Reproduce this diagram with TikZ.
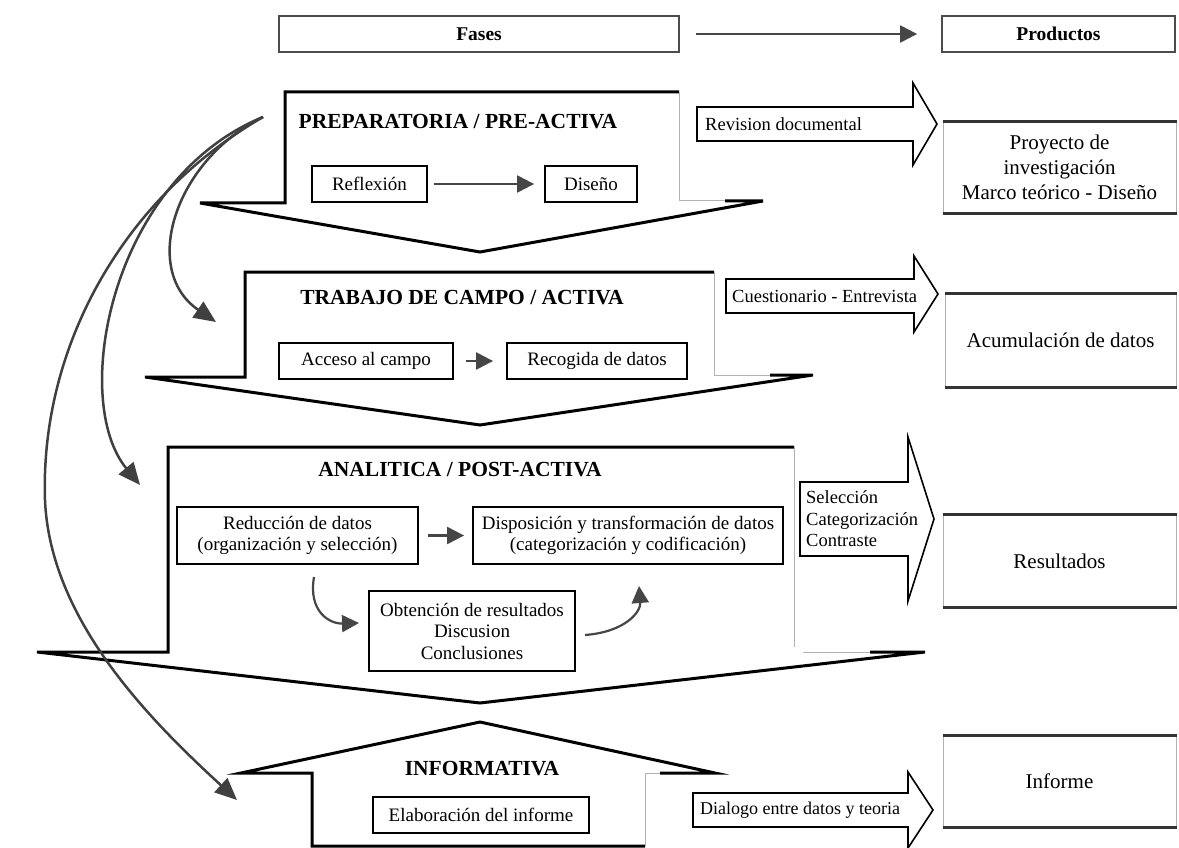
\documentclass[tikz,border=0pt]{standalone}
\usepackage{fontspec}
\setmainfont{Liberation Serif}
\usetikzlibrary{arrows.meta}
\begin{document}
\begin{tikzpicture}[x=1pt,y=-1pt,
  phase/.style={line width=3pt, line join=miter, black},
  faint/.style={line width=1pt, gray!60},
  ibox/.style={draw, line width=1.8pt, inner sep=0pt, font=\fontsize{19}{21.5}\selectfont, align=center},
  hbox/.style={draw=gray!60!black, line width=1.8pt, inner sep=0pt, font=\bfseries\fontsize{19.5}{22}\selectfont},
  pbox/.style={draw=gray!60, line width=1pt, inner sep=0pt, font=\fontsize{21}{25}\selectfont, align=center},
  pedge/.style={line width=2.5pt, gray!40!black},
  ttl/.style={font=\bfseries\fontsize{21.5}{24}\selectfont, inner sep=0pt},
  garrow/.style={draw=gray!55!black, line width=2.2pt, -{Triangle[length=17pt,width=17pt]}, color=gray!55!black},
  curv/.style={draw=gray!50!black, line width=2.5pt, -{Triangle[length=22pt,width=19pt]}, color=gray!50!black},
  barrow/.style={draw, line width=1.6pt, line join=miter},
  btext/.style={font=\fontsize{18.5}{21.5}\selectfont, inner sep=0pt, anchor=west, align=left},
]
\useasboundingbox[fill=white] (0,0) rectangle (1179,848);

% header
\node[hbox, minimum width=400, minimum height=36] (fases) at (479,34) {Fases};
\node[hbox, minimum width=233, minimum height=36] (prod) at (1058.5,34) {Productos};
\draw[garrow, shorten <=16pt, shorten >=24pt] (fases) -- (prod);

% phase 1
\draw[phase] (725,201) -- (763,201) -- (480,252) -- (200,203) -- (285,203) -- (285,92) -- (679,92);
\draw[faint] (679,92) -- (679,201) -- (725,201);
\node[ttl] (t1) at (458,122) {PREPARATORIA / PRE-ACTIVA};
\node[ibox, minimum width=115, minimum height=36] (refl) at (369.5,184) {Reflexión};
\node[ibox, minimum width=92, minimum height=36] (dis) at (591,184) {Diseño};
\draw[garrow, shorten <=6pt, shorten >=10pt] (refl) -- (dis);

\draw[barrow] (697,107) -- (913,107) -- (913,83) -- (937,124) -- (913,165) -- (913,141) -- (697,141) -- cycle;
\node[btext] (rev) at (705,124) {Revision documental};
\node[pbox, minimum width=233, minimum height=91] (proy) at (1059.5,167.5) {Proyecto de\\investigación\\Marco teórico - Diseño};
\draw[pedge] (proy.north west) -- (proy.north east) (proy.south west) -- (proy.south east);

% phase 2
\draw[phase] (770,375) -- (813,375) -- (480,425) -- (145,377) -- (245,377) -- (245,272) -- (714,272);
\draw[faint] (714,272) -- (714,375) -- (770,375);
\node[ttl] (t2) at (462,298) {TRABAJO DE CAMPO / ACTIVA};
\node[ibox, minimum width=174, minimum height=36] (acc) at (366,361) {Acceso al campo};
\node[ibox, minimum width=180, minimum height=36] (rec) at (597,361) {Recogida de datos};
\draw[garrow, shorten <=12pt, shorten >=13pt] (acc) -- (rec);

\draw[barrow] (726,279) -- (914,279) -- (914,256) -- (938,294) -- (914,332) -- (914,313) -- (726,313) -- cycle;
\node[btext] (cue) at (732,296) {Cuestionario - Entrevista};
\node[pbox, minimum width=231, minimum height=93] (acu) at (1060.5,340.5) {Acumulación de datos};
\draw[pedge] (acu.north west) -- (acu.north east) (acu.south west) -- (acu.south east);

% phase 3
\draw[phase] (870,652) -- (925,652) -- (480,703) -- (37,652) -- (168,652) -- (168,447) -- (794,447);
\draw[faint] (794,447) -- (794,647) (803,652) -- (870,652);
\node[ttl] (t3) at (460,470) {ANALITICA / POST-ACTIVA};
\node[ibox, minimum width=241, minimum height=57] (red) at (297.5,535.5) {Reducción de datos\\(organización y selección)};
\node[ibox, minimum width=310, minimum height=57] (disp) at (628,535.5) {Disposición y transformación de datos\\(categorización y codificación)};
\node[ibox, minimum width=206, minimum height=80] (obt) at (472,631) {Obtención de resultados\\Discusion\\Conclusiones};
\draw[garrow, shorten <=9pt, shorten >=8pt] (red) -- (disp);
\coordinate (s1) at (314,577);
\coordinate (s2) at (359,623);
\coordinate (s3) at (585,635);
\coordinate (s4) at (639,586);
\draw[garrow] (s1) .. controls (308,612) and (330,624) .. (s2);
\draw[garrow] (s3) .. controls (625,632) and (641,612) .. (s4);

\draw[barrow] (800,482) -- (908,482) -- (908,437) -- (934,519) -- (908,601) -- (908,556) -- (800,556) -- cycle;
\node[btext] (sel) at (806,519) {Selección\\Categorización\\Contraste};
\node[pbox, minimum width=233, minimum height=92] (res) at (1059.5,561) {Resultados};
\draw[pedge] (res.north west) -- (res.north east) (res.south west) -- (res.south east);

% phase 4
\draw[phase] (660,773) -- (715,773) -- (480,722) -- (241,773) -- (312,773) -- (312,846) -- (645,846);
\draw[faint] (645,773) -- (645,846) (645,773) -- (660,773);
\node[ttl] (t4) at (482,769) {INFORMATIVA};
\node[ibox, minimum width=216, minimum height=36] (ela) at (481,815) {Elaboración del informe};

\draw[barrow] (693,793) -- (908,793) -- (908,772) -- (933,810) -- (908,848) -- (908,827) -- (693,827) -- cycle;
\node[btext, font=\fontsize{18}{21}\selectfont] (dia) at (700,810) {Dialogo entre datos y teoria};
\node[pbox, minimum width=233, minimum height=91] (inf) at (1059.5,781.5) {Informe};
\draw[pedge] (inf.north west) -- (inf.north east) (inf.south west) -- (inf.south east);

% curved arrows
\coordinate (conv) at (263,117);
\coordinate (e1) at (216,322);
\coordinate (e2) at (140,485);
\coordinate (e3) at (237,800);
\draw[curv] (conv) .. controls (175,160) and (140,270) .. (e1);
\draw[curv] (conv) .. controls (110,180) and (70,400) .. (e2);
\draw[curv] (conv) .. controls (120,200) and (40,350) .. (45,500) .. controls (50,620) and (150,720) .. (e3);
\end{tikzpicture}
\end{document}
